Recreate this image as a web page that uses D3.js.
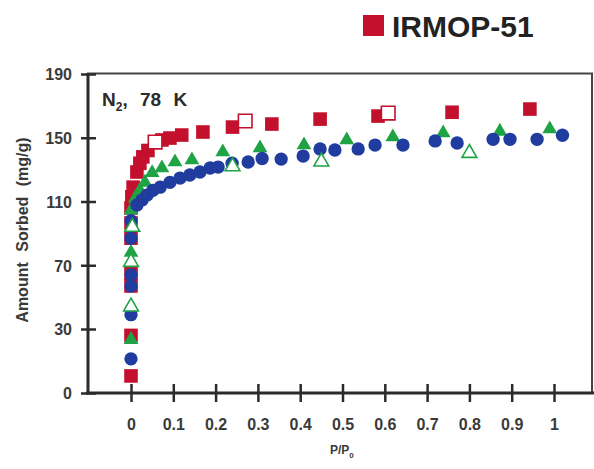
<!DOCTYPE html>
<html>
<head>
<meta charset="utf-8">
<script src="https://cdn.jsdelivr.net/npm/d3@7"></script>
<style>
  html, body { margin: 0; padding: 0; background: #fff; }
  svg { display: block; }
</style>
</head>
<body>
<div id="chart"></div>
<script>
// adsorption (filled) and desorption (open) points, [P/P0, mg/g]
const redFilled = [
  [0, 8], [0, 27], [0, 57], [0, 65], [0, 87], [0, 96.5], [0, 106], [0.002, 113],
  [0.005, 119], [0.014, 128.5], [0.021, 134], [0.028, 138], [0.04, 142],
  [0.073, 148.6], [0.092, 149.8], [0.12, 151.7], [0.17, 153.6], [0.24, 156.7],
  [0.333, 158.6], [0.447, 161.7], [0.584, 163.6], [0.759, 166], [0.943, 168]
];
const redOpen = [[0.057, 147.3], [0.27, 160.5], [0.608, 165.5]];

const greenFilled = [
  [0, 25], [0, 78], [0, 104.6], [0.01, 112], [0.021, 117], [0.033, 122],
  [0.05, 128], [0.073, 131], [0.104, 134.8], [0.144, 136], [0.217, 141],
  [0.305, 143.6], [0.409, 145.4], [0.51, 148.6], [0.619, 150.5], [0.738, 153],
  [0.872, 154], [0.99, 155.5]
];
const greenOpen = [[0, 44], [0, 72], [0.003, 94], [0.24, 132], [0.45, 135], [0.8, 140.4]];

const blueFilled = [
  [0, 16], [0, 39], [0, 57], [0, 64], [0, 87], [0, 98], [0.014, 107.8],
  [0.026, 111], [0.038, 114], [0.052, 117], [0.069, 119], [0.092, 122],
  [0.116, 124.7], [0.139, 126.6], [0.163, 128.5], [0.187, 131], [0.206, 131.6],
  [0.239, 134], [0.277, 134.8], [0.31, 137], [0.355, 136.6], [0.407, 138.5],
  [0.447, 143], [0.482, 142.3], [0.537, 143], [0.577, 145.4], [0.643, 145.4],
  [0.719, 148], [0.771, 146.7], [0.856, 149], [0.896, 149], [0.96, 149], [1.02, 151.6]
];

const xTicks = [0, 0.1, 0.2, 0.3, 0.4, 0.5, 0.6, 0.7, 0.8, 0.9, 1];
const yTicks = [0, 30, 70, 110, 150, 190];

const legendLabel = "IRMOP-51";

const width = 594;
const height = 469;

const red = "#c3112d";
const green = "#1fa345";
const blue = "#1f3c9e";
const ink = "#2b2b2b";
const font = "Liberation Sans, Arial, Helvetica, sans-serif";

const svg = d3.select("#chart")
  .append("svg")
  .attr("width", width)
  .attr("height", height);

// the original axis has evenly spaced ticks with a short 0..30 step
const x = d3.scaleLinear().domain([0, 1]).range([131, 554]);
const y = d3.scaleLinear().domain([0, 30, 190]).range([393, 329, 74]);

// ---------------------------FRAME & AXES-----------------------------------

svg.append("path")
  .attr("d", "M88,393V73.5H592V393")
  .attr("fill", "none")
  .attr("stroke", "#444")
  .attr("stroke-width", 2);

const xAxis = svg.append("g")
  .attr("transform", `translate(0, ${y(0)})`)
  .call(d3.axisBottom(x).tickValues(xTicks).tickFormat(d3.format("")).tickSizeOuter(0));

xAxis.select(".domain").remove();
xAxis.selectAll(".tick line")
  .attr("y1", -9).attr("y2", 9)
  .attr("stroke", ink).attr("stroke-width", 2.5);
xAxis.selectAll(".tick text")
  .attr("y", 37).attr("dy", 0)
  .attr("fill", "#3a3a3a")
  .attr("font-family", font)
  .attr("font-weight", "bold")
  .attr("font-size", "16px");

svg.append("line")
  .attr("x1", 86).attr("x2", width)
  .attr("y1", y(0)).attr("y2", y(0))
  .attr("stroke", ink)
  .attr("stroke-width", 3);

const yAxis = svg.append("g")
  .attr("transform", "translate(88, 0)")
  .call(d3.axisLeft(y).tickValues(yTicks).tickSizeOuter(0));

yAxis.select(".domain").remove();
yAxis.selectAll(".tick line")
  .attr("x1", -7).attr("x2", 8)
  .attr("stroke", ink).attr("stroke-width", 2.5);
yAxis.selectAll(".tick text")
  .attr("x", -16).attr("dy", "0.36em")
  .attr("fill", "#3a3a3a")
  .attr("font-family", font)
  .attr("font-weight", "bold")
  .attr("font-size", "16px");

svg.append("line")
  .attr("x1", 88).attr("x2", 88)
  .attr("y1", 73).attr("y2", y(0) + 1.5)
  .attr("stroke", ink)
  .attr("stroke-width", 3);

// ---------------------------LABELS-----------------------------------

svg.append("text")
  .attr("transform", "translate(28, 230) rotate(-90)")
  .attr("text-anchor", "middle")
  .attr("fill", "#3a3a3a")
  .attr("font-family", font)
  .attr("font-weight", "bold")
  .attr("font-size", "16px")
  .attr("word-spacing", "6px")
  .text("Amount Sorbed (mg/g)");

const xLabel = svg.append("text")
  .attr("x", 330)
  .attr("y", 454)
  .attr("fill", "#3a3a3a")
  .attr("font-family", font)
  .attr("font-weight", "bold")
  .attr("font-size", "12px");
xLabel.append("tspan").text("P/P");
xLabel.append("tspan").attr("dy", 4).attr("font-size", "8px").text("0");

const gasLabel = svg.append("text")
  .attr("x", 102)
  .attr("y", 106)
  .attr("fill", ink)
  .attr("font-family", font)
  .attr("font-weight", "bold")
  .attr("font-size", "19px")
  .attr("word-spacing", "7px");
gasLabel.append("tspan").text("N");
gasLabel.append("tspan").attr("dy", 5).attr("font-size", "12px").text("2");
gasLabel.append("tspan").attr("dy", -5).text(", 78 K");

// legend
svg.append("rect")
  .attr("x", 363).attr("y", 15)
  .attr("width", 21).attr("height", 21)
  .attr("fill", red);

svg.append("text")
  .attr("x", 392)
  .attr("y", 37)
  .attr("fill", "#222")
  .attr("font-family", font)
  .attr("font-weight", "bold")
  .attr("font-size", "30px")
  .text(legendLabel);

// ---------------------------POINTS-----------------------------------

const square = d3.symbol().type(d3.symbolSquare).size(185);
const triangle = d3.symbol().type(d3.symbolTriangle).size(95);
const circle = d3.symbol().type(d3.symbolCircle).size(140);

function drawPoints(data, shape, color, open) {
  svg.append("g")
    .selectAll("path")
    .data(data)
    .join("path")
    .attr("transform", (d) => `translate(${x(d[0])}, ${y(d[1])})`)
    .attr("d", shape)
    .attr("fill", open ? "#fff" : color)
    .attr("stroke", open ? color : "none")
    .attr("stroke-width", open ? 1.6 : 0);
}

drawPoints(redFilled, square, red, false);
drawPoints(redOpen, square, red, true);
drawPoints(greenFilled, triangle, green, false);
drawPoints(blueFilled, circle, blue, false);
drawPoints(greenOpen, triangle, green, true);
</script>
</body>
</html>
